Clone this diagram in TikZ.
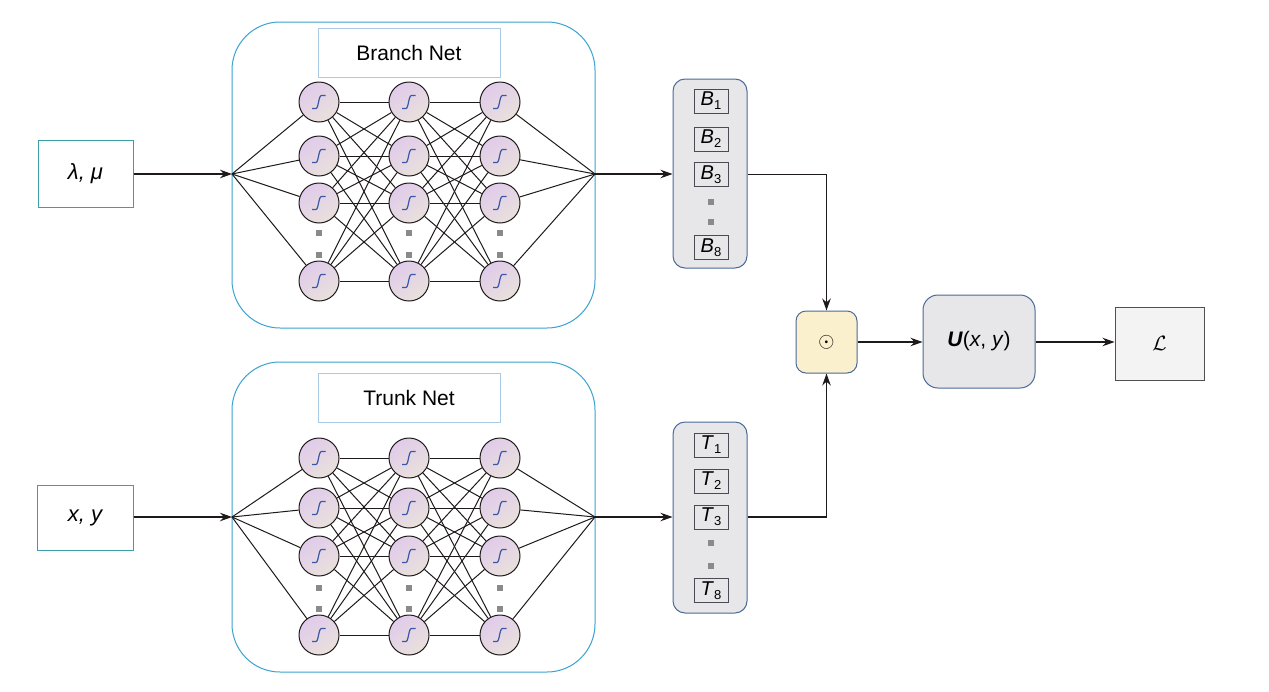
\documentclass[tikz,border=0pt]{standalone}
\usepackage{fontspec}
\setmainfont{Liberation Sans}
\usetikzlibrary{arrows.meta,calc}
\definecolor{netblue}{HTML}{3BA3D0}
\definecolor{titleblue}{HTML}{A9CBE6}
\definecolor{inteal}{HTML}{3C9EA8}
\definecolor{stackfill}{HTML}{E7E7E9}
\definecolor{stackdraw}{HTML}{4A6A9A}
\definecolor{itemdraw}{HTML}{4B4B55}
\definecolor{odotfill}{HTML}{FBF0CE}
\definecolor{lfill}{HTML}{F3F3F3}
\definecolor{ldraw}{HTML}{505050}
\definecolor{neuA}{HTML}{E0CBEA}
\definecolor{neuB}{HTML}{E9E1DC}
\definecolor{sigblue}{HTML}{3A57A8}
\definecolor{dotgrey}{HTML}{8A8A8A}
\definecolor{linec}{HTML}{1E1A1A}
\tikzset{
  neuron/.style={circle, draw=linec, line width=1pt, minimum size=40pt, inner sep=0pt,
    top color=neuA, bottom color=neuB, shading angle=35},
  netbox/.style={draw=netblue, line width=1pt, rounded corners=48pt, inner sep=0pt},
  titlebox/.style={draw=titleblue, line width=1pt, fill=white, inner sep=0pt,
    minimum width=182pt, minimum height=49pt, font=\fontsize{21}{24}\selectfont},
  inbox/.style={draw=inteal, line width=1pt, inner sep=0pt,
    font=\fontsize{22}{24}\selectfont\itshape},
  stackbox/.style={draw=stackdraw, fill=stackfill, line width=1pt, rounded corners=12pt,
    inner sep=0pt, minimum width=74pt},
  itembox/.style={draw=itemdraw, line width=0.9pt, inner sep=0pt, minimum width=34pt,
    minimum height=24pt, font=\fontsize{20}{22}\selectfont},
  dotsq/.style={fill=dotgrey, inner sep=0pt, minimum size=6pt, draw=none},
  conn/.style={draw=linec, line width=1pt},
  sig/.style={draw=sigblue, line width=1.2pt},
  arr/.style={draw=linec, line width=1.1pt, -{Stealth[length=12pt,width=8.5pt]}},
}
\newcommand\Sb[1]{\raisebox{-0.2em}{\fontsize{13}{14}\selectfont #1}}
\newcommand\MyNet[8]{%
  \foreach \c/\x in {1/319,2/409,3/500}{%
    \node[neuron] (#1-\c-1) at (\x,#2) {};
    \node[neuron] (#1-\c-2) at (\x,#3) {};
    \node[neuron] (#1-\c-3) at (\x,#4) {};
    \node[neuron] (#1-\c-4) at (\x,#5) {};
    \node[dotsq] (#1-d-\c-a) at (\x,#6) {};
    \node[dotsq] (#1-d-\c-b) at (\x,#7) {};
  }
  \coordinate (#1-in) at (232,#8);
  \coordinate (#1-out) at (595,#8);
  \foreach \i in {1,...,4}{%
    \draw[conn] (#1-in) -- (#1-1-\i);
    \draw[conn] (#1-3-\i) -- (#1-out);
    \foreach \j in {1,...,4}{%
      \draw[conn] (#1-1-\i) -- (#1-2-\j);
      \draw[conn] (#1-2-\i) -- (#1-3-\j);
    }
  }
  \foreach \c in {1,2,3}{%
    \foreach \r in {1,...,4}{%
      \draw[sig, shift={(#1-\c-\r.center)}] (-7,6.5) -- (-3,6.5)
        .. controls (-0.5,6.5) and (-0.5,-6.5) .. (2.5,-6.5) -- (6.5,-6.5);
    }
  }
}
\begin{document}
\begin{tikzpicture}[x=1pt,y=-1pt]
\useasboundingbox (0,0) rectangle (1269,691);
\fill[white] (0,0) rectangle (1269,691);

% net boxes
\node[netbox, minimum width=363pt, minimum height=306pt] (bnet) at (413.5,175) {};
\node[netbox, minimum width=363pt, minimum height=310pt] (tnet) at (413.5,517) {};
\node[titlebox] (btitle) at (409,52.5) {Branch Net};
\node[titlebox] (ttitle) at (409,397.5) {Trunk Net};

\MyNet{b}{102}{156}{203}{281}{233}{255}{174}
\MyNet{t}{458}{508}{556}{635}{588}{609}{517}

% inputs
\node[inbox, minimum width=95pt, minimum height=67pt] (lam) at (85.5,173.5) {λ, μ};
\node[inbox, minimum width=96pt, minimum height=65pt] (xy) at (85,517.5) {x, y};
\draw[arr] (lam.east |- b-in) -- (b-in);
\draw[arr] (xy.east |- t-in) -- (t-in);

% stacks
\node[stackbox, minimum height=189pt] (B) at (710,173.5) {};
\node[stackbox, minimum height=191pt] (T) at (710,517.5) {};
\node[itembox] (B1) at (711,101) {\textit{B}\Sb{1}};
\node[itembox] (B2) at (711,139) {\textit{B}\Sb{2}};
\node[itembox] (B3) at (711,174.5) {\textit{B}\Sb{3}};
\node[dotsq] (Bd1) at (711,202) {};
\node[dotsq] (Bd2) at (711,222) {};
\node[itembox] (B8) at (711,247.5) {\textit{B}\Sb{8}};
\node[itembox] (T1) at (711,445) {\textit{T}\Sb{1}};
\node[itembox] (T2) at (711,481) {\textit{T}\Sb{2}};
\node[itembox] (T3) at (711,517) {\textit{T}\Sb{3}};
\node[dotsq] (Td1) at (711,543) {};
\node[dotsq] (Td2) at (711,566) {};
\node[itembox] (T8) at (711,590.5) {\textit{T}\Sb{8}};

\draw[arr] (b-out) -- (b-out -| B.west);
\draw[arr] (t-out) -- (t-out -| T.west);

% combine
\node[draw=stackdraw, fill=odotfill, line width=1pt, rounded corners=10pt,
      minimum width=61pt, minimum height=62pt, inner sep=0pt,
      font=\fontsize{21}{24}\selectfont] (od) at (826.5,342) {$\odot$};
\node[draw=stackdraw, fill=stackfill, line width=1pt, rounded corners=15pt,
      minimum width=112pt, minimum height=93pt, inner sep=0pt,
      font=\fontsize{21}{24}\selectfont] (U) at (979,341.5)
      {\textbf{\textit{U}}(\textit{x}, \textit{y})};
\node[draw=ldraw, fill=lfill, line width=1pt, minimum width=89pt, minimum height=73pt,
      inner sep=0pt, font=\fontsize{21}{24}\selectfont] (L) at (1159.5,343.5) {$\mathcal{L}$};

\draw[arr] (B.east |- B3) -| (od.north);
\draw[arr] (T.east |- T3) -| (od.south);
\draw[arr] (od.east) -- (od.east -| U.west);
\draw[arr] (U.east |- od.east) -- (od.east -| L.west);
\end{tikzpicture}
\end{document}
